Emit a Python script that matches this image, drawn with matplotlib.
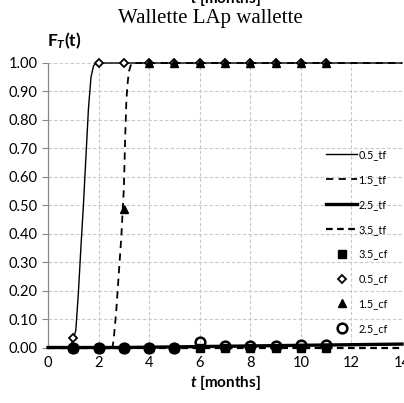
import matplotlib
matplotlib.use("Agg")
import matplotlib.pyplot as plt

plt.rcParams['font.family'] = ['Lato', 'DejaVu Sans']
plt.rcParams['mathtext.fontset'] = 'custom'
plt.rcParams['mathtext.rm'] = 'Lato'
plt.rcParams['mathtext.it'] = 'Lato:italic'
plt.rcParams['mathtext.bf'] = 'Lato:bold'
plt.rcParams['mathtext.bfit'] = 'Lato:bold:italic'

# ---- data ----
t_05tf = [0, 0.8, 0.9, 1.0, 1.1, 1.2, 1.3, 1.4, 1.5, 1.6, 1.7, 1.8, 1.9, 2.0, 14]
v_05tf = [0, 0, 0.008, 0.03, 0.06, 0.19, 0.35, 0.5, 0.67, 0.84, 0.95, 0.99, 1.0, 1.0, 1.0]

t_15tf = [0, 2.55, 2.6, 2.7, 2.8, 2.9, 3.0, 3.05, 3.1, 3.15, 3.2, 3.3, 14]
v_15tf = [0, 0, 0.03, 0.13, 0.26, 0.39, 0.56, 0.73, 0.87, 0.93, 0.97, 1.0, 1.0]

t_25tf = [0, 3, 14]
v_25tf = [0, 0, 0.012]

t_35tf = [0, 14]
v_35tf = [0, 0]

t_cf = [1, 2, 3, 4, 5, 6, 7, 8, 9, 10, 11]
v_35cf = [0, 0, 0, 0, 0, 0, 0, 0, 0, 0, 0]
v_05cf = [0.035, 1, 1, 1, 1, 1, 1, 1, 1, 1, 1]
v_15cf = [0, 0, 0.486, 1, 1, 1, 1, 1, 1, 1, 1]
v_25cf = [0, 0, 0, 0, 0, 0.019, 0.005, 0.005, 0.005, 0.008, 0.008]

x_ticks = [0, 2, 4, 6, 8, 10, 12, 14]
y_ticks = [0.0, 0.1, 0.2, 0.3, 0.4, 0.5, 0.6, 0.7, 0.8, 0.9, 1.0]

fig = plt.figure(figsize=(4.04, 4.03), dpi=100)
ax = fig.add_axes([48/404, 1 - 347.5/403, 354/404, (347.5 - 63)/403])

kw = dict(clip_on=False)
ax.plot(t_05tf, v_05tf, color='black', lw=1.0, label='0.5_tf', zorder=3, **kw)
ax.plot(t_15tf, v_15tf, color='black', lw=1.3, ls=(0, (4, 3)), label='1.5_tf', zorder=3, **kw)
ax.plot(t_25tf, v_25tf, color='black', lw=2.4, label='2.5_tf', zorder=3, **kw)
ax.plot(t_35tf, v_35tf, color='black', lw=1.6, ls=(0, (3, 2)), label='3.5_tf', zorder=3, **kw)

ax.plot(t_cf, v_35cf, ls='none', marker='s', ms=5.5, color='black', label='3.5_cf', zorder=4, **kw)
ax.plot(t_cf, v_05cf, ls='none', marker='D', ms=4, mfc='white', mec='black', mew=1.3,
        label='0.5_cf', zorder=4, **kw)
ax.plot(t_cf, v_15cf, ls='none', marker='^', ms=6, color='black', label='1.5_cf', zorder=5, **kw)
ax.plot(t_cf, v_25cf, ls='none', marker='o', ms=7, mfc='none', mec='black', mew=1.8,
        label='2.5_cf', zorder=5, **kw)

ax.set_xlim(0, 14)
ax.set_ylim(0, 1.0)
ax.set_xticks(x_ticks)
ax.set_yticks(y_ticks)
ax.set_yticklabels([f'{v:.2f}' for v in y_ticks])
ax.tick_params(axis='both', labelsize=10.5, length=4, color='#888888')
ax.tick_params(axis='x', length=0, pad=6)
ax.grid(True, ls=(0, (3, 2)), color='#c8c8c8', lw=0.8)
ax.set_axisbelow(True)
for s in ['top', 'right', 'bottom']:
    ax.spines[s].set_visible(False)
ax.spines['left'].set_color('#888888')
ax.spines['left'].set_linewidth(0.9)

ax.set_xlabel(r'$\mathbfit{t}$ [months]', fontsize=11, fontweight='bold', labelpad=2)

fig.text(47/404, 1 - 41/403, r'$\mathbf{F}_{\mathbfit{T}}\mathbf{(t)}$', fontsize=12.5,
         ha='left', va='center')
fig.text(210/404, 1 - 19/403, 'Wallette LAp wallette', family='Liberation Serif',
         fontsize=15, ha='center', va='center')
fig.text(225/404, 1 - 3/403, r'$\mathbfit{t}$ [months]', fontsize=11, fontweight='bold',
         ha='center', va='baseline')

leg = ax.legend(loc='upper left', bbox_to_anchor=(326/404, 1 - 149/403),
                bbox_transform=fig.transFigure, frameon=False, fontsize=7.8,
                handlelength=2.9, handletextpad=0.1, labelspacing=1.28, borderpad=0,
                borderaxespad=0)

fig.savefig('out.png', dpi=100)
